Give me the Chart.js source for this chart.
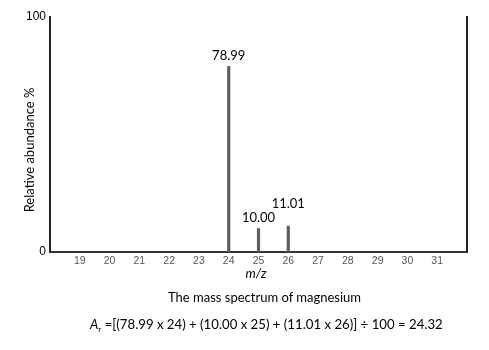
<!DOCTYPE html>
<html>
<head>
<meta charset="utf-8">
<script src="https://cdn.jsdelivr.net/npm/chart.js@4.4.1/dist/chart.umd.min.js"></script>
<style>
  html, body { margin: 0; padding: 0; background: #fff; }
  #wrap { position: relative; width: 489px; height: 350px; }
  #c { position: absolute; left: 0; top: 0; }
  .note { position: absolute; left: 0; width: 489px; font-family: Lato, "Open Sans", sans-serif; color: #000; white-space: nowrap; }
  #caption { top: 289px; font-size: 13px; text-align: center; padding-left: 40px; box-sizing: border-box; }
  #equation { top: 316px; left: 90px; width: auto; font-size: 13.2px; }
  #equation sub { font-size: 8px; vertical-align: -3px; }
</style>
</head>
<body>
<div id="wrap">
  <canvas id="c" width="489" height="350"></canvas>
  <div class="note" id="caption">The mass spectrum of magnesium</div>
  <div class="note" id="equation"></div>
</div>
<script>
// Magnesium isotopes: mass numbers and relative abundances (%)
const massNumbers = [24, 25, 26];
const abundances = [78.99, 10.00, 11.01];
// Extra lift (px) for each peak label so neighbouring labels do not collide
const labelLift = [4, 4, 16];
// Axis ranges and tick marks
const mzRange = [18, 32];
const abundanceTicks = [0, 100];

const peaks = massNumbers.map((m, i) => ({ x: m, y: abundances[i] }));

// Relative atomic mass worked out from the peaks
const ar = massNumbers.reduce((s, m, i) => s + abundances[i] * m, 0) / 100;
document.getElementById('equation').innerHTML =
  '<i>A</i><sub>r</sub> =[' +
  massNumbers.map((m, i) => '(' + abundances[i].toFixed(2) + ' x ' + m + ')').join(' + ') +
  '] \u00f7 100 = ' + ar.toFixed(2);

const frame = {
  id: 'frame',
  afterDraw(chart) {
    const { ctx, chartArea: a } = chart;
    ctx.save();
    // closing line on the right edge of the plot
    ctx.strokeStyle = '#222';
    ctx.lineWidth = 2;
    ctx.beginPath();
    ctx.moveTo(a.right, a.top - 1);
    ctx.lineTo(a.right, a.bottom + 1);
    ctx.stroke();

    // peak value labels
    ctx.fillStyle = '#000';
    ctx.font = '13px Lato, "Open Sans", sans-serif';
    ctx.textAlign = 'center';
    ctx.textBaseline = 'bottom';
    chart.getDatasetMeta(0).data.forEach((bar, i) => {
      ctx.fillText(abundances[i].toFixed(2), bar.x, bar.y - labelLift[i]);
    });

    // axis titles
    ctx.font = '13px Lato, "Open Sans", sans-serif';
    ctx.textBaseline = 'middle';
    ctx.save();
    ctx.translate(30, 150);
    ctx.rotate(-Math.PI / 2);
    ctx.fillText('Relative abundance %', 0, 0);
    ctx.restore();
    ctx.font = 'italic 13px Lato, "Open Sans", sans-serif';
    ctx.fillText('m/z', 256, 274);
    ctx.restore();
  }
};

new Chart(document.getElementById('c'), {
  type: 'bar',
  data: {
    datasets: [{
      data: peaks,
      backgroundColor: '#5e5e5e',
      barThickness: 2.5
    }]
  },
  options: {
    responsive: false,
    animation: false,
    layout: { padding: { top: 17, right: 22, left: 0, bottom: 0 } },
    plugins: { legend: { display: false }, tooltip: { enabled: false } },
    scales: {
      x: {
        type: 'linear',
        offset: false,
        min: mzRange[0],
        max: mzRange[1],
        grid: { display: false, drawTicks: false },
        border: { color: '#333', width: 2 },
        ticks: {
          stepSize: 1,
          padding: 3,
          color: '#555',
          font: { family: '"Liberation Sans", Arial, sans-serif', size: 10.5 },
          callback: v => (v > mzRange[0] && v < mzRange[1]) ? String(v) : ''
        },
        afterFit(scale) { scale.height = 98; }
      },
      y: {
        min: abundanceTicks[0],
        max: abundanceTicks[abundanceTicks.length - 1],
        grid: { display: false, drawTicks: false },
        border: { color: '#222', width: 2 },
        afterBuildTicks(scale) { scale.ticks = abundanceTicks.map(v => ({ value: v })); },
        ticks: {
          padding: 4,
          color: '#000',
          font: { family: '"Liberation Sans", Arial, sans-serif', size: 12 }
        },
        afterFit(scale) { scale.width = 50; }
      }
    }
  },
  plugins: [frame]
});
</script>
</body>
</html>
